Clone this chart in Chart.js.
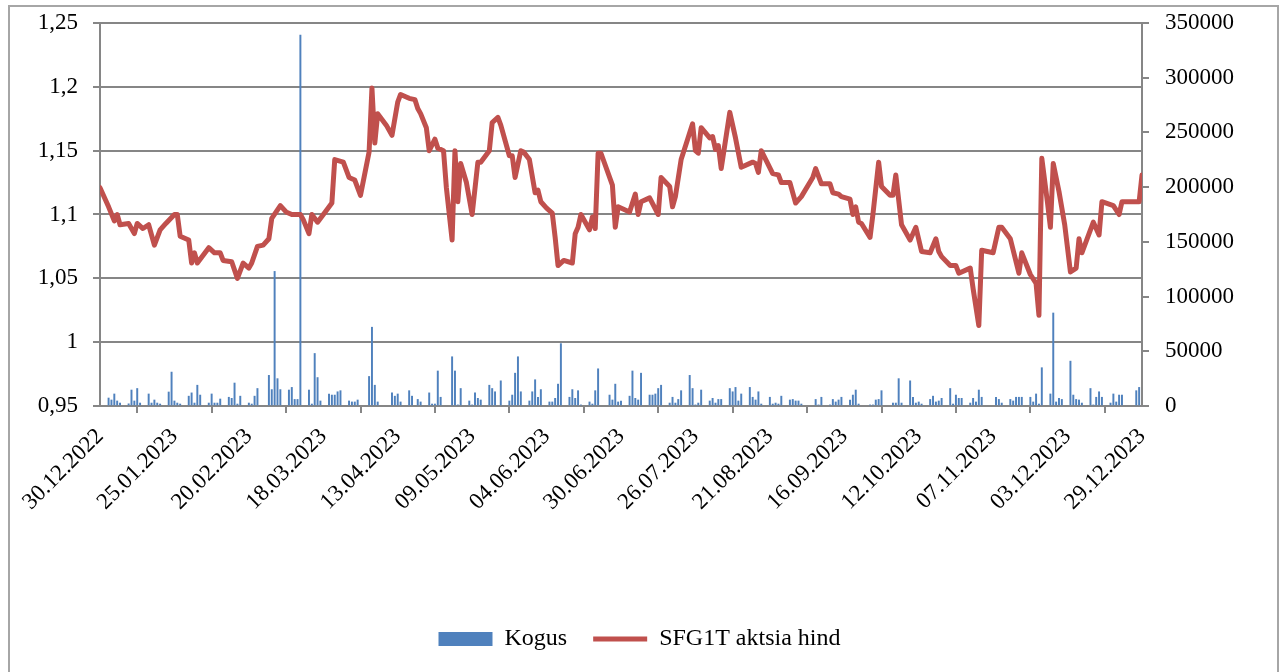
<!DOCTYPE html>
<html>
<head>
<meta charset="utf-8">
<script src="https://cdn.jsdelivr.net/npm/chart.js@4.4.1/dist/chart.umd.min.js"></script>
<style>
  html, body { margin: 0; padding: 0; background: #fff; overflow: hidden; }
  #frame { position: absolute; left: 8px; top: 5px; width: 1267px; height: 700px; border: 2px solid #a6a6a6; }
  #wrap { position: absolute; left: 0; top: 0; width: 1279px; height: 672px; }
</style>
</head>
<body>
<div id="frame"></div>
<div id="wrap"><canvas id="chart"></canvas></div>
<script>
// days counted from 30.12.2022
const priceDays = [
  0, 3, 5, 6, 7, 10, 12, 13, 15, 17, 19, 21, 23, 26, 27, 28, 31, 32, 33, 34,
  38, 40, 42, 43, 46, 48, 50, 52, 53, 55, 57, 59, 60, 63, 65, 67, 70, 71, 73, 74,
  76, 79, 81, 82, 85, 87, 89, 91, 94, 95, 96, 97, 100, 102, 104, 105, 108, 110, 111, 112,
  114, 115, 117, 118, 120, 121, 123, 124, 125, 126, 128, 130, 132, 133, 136, 137, 139, 140, 143, 144,
  145, 147, 148, 150, 152, 153, 154, 156, 158, 159, 160, 162, 165, 166, 167, 168, 171, 172, 173, 174,
  175, 179, 180, 181, 185, 187, 188, 189, 192, 195, 196, 199, 200, 201, 203, 205, 207, 208, 209, 210,
  213, 214, 215, 216, 217, 220, 222, 224, 228, 229, 230, 231, 233, 235, 237, 238, 241, 243, 245, 249,
  250, 252, 255, 256, 258, 259, 262, 263, 264, 265, 266, 269, 270, 272, 273, 276, 277, 278, 280, 283,
  285, 287, 290, 292, 293, 294, 297, 299, 300, 304, 305, 307, 308, 312, 314, 315, 318, 321, 322, 325,
  327, 328, 329, 331, 332, 333, 335, 337, 339, 341, 342, 343, 347, 349, 350, 354, 356, 357, 363, 364
];
const priceValues = [
  1.121, 1.106, 1.095, 1.100, 1.092, 1.093, 1.085, 1.093, 1.089, 1.092, 1.076, 1.088, 1.093, 1.100, 1.100, 1.083, 1.080, 1.062, 1.070, 1.062,
  1.074, 1.070, 1.070, 1.064, 1.063, 1.050, 1.062, 1.058, 1.062, 1.075, 1.076, 1.081, 1.097, 1.107, 1.102, 1.100, 1.100, 1.096, 1.085, 1.100,
  1.094, 1.103, 1.109, 1.143, 1.141, 1.129, 1.127, 1.115, 1.149, 1.199, 1.156, 1.179, 1.170, 1.162, 1.188, 1.194, 1.191, 1.190, 1.183, 1.179,
  1.168, 1.150, 1.159, 1.152, 1.150, 1.121, 1.080, 1.150, 1.110, 1.140, 1.125, 1.100, 1.141, 1.141, 1.150, 1.172, 1.176, 1.170, 1.146, 1.146,
  1.129, 1.150, 1.149, 1.143, 1.117, 1.119, 1.110, 1.105, 1.101, 1.082, 1.060, 1.064, 1.062, 1.085, 1.090, 1.100, 1.088, 1.098, 1.089, 1.148,
  1.148, 1.123, 1.090, 1.106, 1.102, 1.116, 1.100, 1.110, 1.113, 1.100, 1.129, 1.122, 1.106, 1.114, 1.143, 1.157, 1.171, 1.150, 1.148, 1.168,
  1.160, 1.161, 1.151, 1.154, 1.136, 1.180, 1.160, 1.137, 1.141, 1.140, 1.133, 1.150, 1.141, 1.132, 1.131, 1.125, 1.125, 1.109, 1.114, 1.129,
  1.136, 1.124, 1.124, 1.117, 1.116, 1.114, 1.112, 1.100, 1.106, 1.094, 1.093, 1.082, 1.100, 1.141, 1.122, 1.115, 1.115, 1.131, 1.092, 1.080,
  1.090, 1.071, 1.070, 1.081, 1.071, 1.067, 1.060, 1.060, 1.054, 1.058, 1.042, 1.013, 1.072, 1.070, 1.090, 1.090, 1.081, 1.054, 1.070, 1.053,
  1.046, 1.021, 1.144, 1.109, 1.090, 1.140, 1.118, 1.092, 1.055, 1.058, 1.081, 1.070, 1.094, 1.084, 1.110, 1.107, 1.100, 1.110, 1.110, 1.131
];

const volumeDays = [
  3, 4, 5, 6, 7, 10, 11, 12, 13, 14, 17, 18, 19, 20, 21, 24, 25, 26, 27, 28,
  31, 32, 33, 34, 35, 38, 39, 40, 41, 42, 45, 46, 47, 48, 49, 52, 53, 54, 55, 59,
  60, 61, 62, 63, 66, 67, 68, 69, 70, 73, 74, 75, 76, 77, 80, 81, 82, 83, 84, 87,
  88, 89, 90, 94, 95, 96, 97, 102, 103, 104, 105, 108, 109, 111, 112, 115, 116, 117, 118, 119,
  123, 124, 125, 126, 129, 130, 131, 132, 133, 136, 137, 138, 140, 143, 144, 145, 146, 147, 150, 151,
  152, 153, 154, 157, 158, 159, 160, 161, 164, 165, 166, 167, 168, 171, 172, 173, 174, 178, 179, 180,
  181, 182, 185, 186, 187, 188, 189, 192, 193, 194, 195, 196, 199, 200, 201, 202, 203, 206, 207, 208,
  209, 210, 213, 214, 215, 216, 217, 220, 221, 222, 223, 224, 227, 228, 229, 230, 231, 234, 235, 236,
  237, 238, 241, 242, 243, 244, 245, 250, 251, 252, 255, 256, 257, 258, 259, 262, 263, 264, 265, 269,
  270, 271, 272, 273, 277, 278, 279, 280, 283, 284, 285, 286, 287, 290, 291, 292, 293, 294, 297, 298,
  299, 300, 301, 304, 305, 306, 307, 308, 313, 314, 315, 318, 319, 320, 321, 322, 325, 326, 327, 328,
  329, 332, 333, 334, 335, 336, 339, 340, 341, 342, 343, 346, 347, 348, 349, 350, 353, 354, 355, 356,
  357, 362, 363
];
const volumeValues = [
  7300, 5500, 11000, 4600, 2700, 2000, 14600, 4600, 16000, 2700, 11000, 2700, 5500, 2700, 1800, 12800, 31000, 4600, 2700, 1800,
  9000, 12000, 2700, 19000, 10000, 2700, 11000, 2700, 2700, 6400, 8000, 7000, 21000, 1800, 9000, 2700, 1800, 9000, 16000, 28000,
  15000, 123000, 25000, 15000, 14600, 17000, 6000, 6000, 339000, 14600, 1800, 48000, 26000, 4600, 11000, 10000, 10000, 13000, 14000, 4600,
  3700, 3700, 5500, 27000, 72000, 19000, 3700, 12000, 9000, 11000, 3700, 14000, 9000, 6000, 3700, 12000, 1800, 1800, 32000, 8000,
  45000, 32000, 1000, 16000, 4600, 1000, 12000, 7000, 5500, 19000, 16000, 13000, 23000, 4600, 10000, 30000, 45000, 13000, 4600, 13000,
  24000, 8000, 15000, 3700, 3700, 7000, 20000, 57000, 8000, 15000, 7000, 14000, 1000, 3700, 1800, 14000, 34000, 10000, 5500, 20000,
  3700, 4600, 9000, 32000, 7000, 5500, 30000, 10000, 10000, 11000, 16000, 19000, 2700, 8000, 2700, 6000, 14000, 28000, 16000, 1000,
  2700, 14600, 4600, 7000, 2700, 6000, 6000, 16000, 13000, 17000, 4600, 11000, 17000, 8000, 5500, 13000, 1800, 8000, 1800, 2700,
  1800, 9000, 5500, 6000, 4600, 4600, 1800, 6000, 1000, 8000, 1000, 6000, 3700, 5500, 8000, 5500, 10000, 14600, 1800, 1000,
  1000, 5500, 6000, 14000, 2700, 2700, 25000, 2700, 23000, 8000, 2700, 3700, 1800, 6000, 9000, 3700, 4600, 7000, 16000, 1800,
  10000, 7000, 7000, 2700, 7000, 3700, 14600, 8000, 8000, 6000, 2700, 6000, 4600, 8000, 8000, 8000, 8000, 3700, 11000, 1800,
  35000, 11000, 85000, 3700, 7000, 6000, 41000, 10000, 6000, 5500, 2700, 16000, 1000, 8000, 13000, 8000, 2700, 11000, 3700, 10000,
  10000, 14000, 17000
];

const FONT = "'Liberation Serif', 'Times New Roman', serif";
Chart.defaults.font.family = FONT;
Chart.defaults.font.size = 23;
Chart.defaults.color = "#000";

const AXIS_GREY = "#868686";
const startDate = Date.UTC(2022, 11, 30);

function dayLabel(d) {
  const t = new Date(startDate + d * 86400000);
  const dd = String(t.getUTCDate()).padStart(2, "0");
  const mm = String(t.getUTCMonth() + 1).padStart(2, "0");
  return dd + "." + mm + "." + t.getUTCFullYear();
}

// fixed axis sizes so the plot area sits where it does in the original
function fixWidth(w) {
  return (s) => {
    s.width = w;
    s.paddingTop = 0;
    s.paddingBottom = 0;
  };
}

new Chart(document.getElementById("chart"), {
  type: "bar",
  data: {
    datasets: [
      {
        type: "line",
        label: "SFG1T aktsia hind",
        data: priceDays.map((d, i) => ({ x: d, y: priceValues[i] })),
        yAxisID: "y",
        borderColor: "#C0504D",
        backgroundColor: "#C0504D",
        borderWidth: 5,
        borderJoinStyle: "round",
        borderCapStyle: "round",
        pointRadius: 0,
        tension: 0,
      },
      {
        type: "bar",
        label: "Kogus",
        data: volumeDays.map((d, i) => ({ x: d, y: volumeValues[i] })),
        yAxisID: "y2",
        backgroundColor: "#4F81BD",
        borderWidth: 0,
        barThickness: 1.3,
      },
    ],
  },
  options: {
    responsive: true,
    maintainAspectRatio: false,
    animation: false,
    layout: { padding: { left: 0, right: 0, top: 23, bottom: 11 } },
    plugins: {
      tooltip: { enabled: false },
      legend: {
        position: "bottom",
        reverse: true,
        labels: {
          usePointStyle: true,
          pointStyleWidth: 54,
          boxHeight: 14,
          padding: 26,
          font: { size: 24 },
          generateLabels: (chart) =>
            Chart.defaults.plugins.legend.labels.generateLabels(chart).map((item) => {
              const isLine = chart.data.datasets[item.datasetIndex].type === "line";
              item.pointStyle = isLine ? "line" : "rect";
              item.lineWidth = isLine ? 5 : 0;
              return item;
            }),
        },
      },
    },
    scales: {
      x: {
        type: "linear",
        min: 0,
        max: 364,
        offset: false,
        grid: { drawOnChartArea: false, color: AXIS_GREY, lineWidth: 2, tickLength: 7 },
        border: { color: AXIS_GREY, width: 2 },
        ticks: {
          stepSize: 26,
          autoSkip: false,
          maxRotation: 45,
          minRotation: 45,
          padding: 10,
          callback: (v) => dayLabel(v),
        },
        afterFit: (s) => { s.height = 195; },
      },
      y: {
        position: "left",
        min: 0.95,
        max: 1.25,
        grid: { color: AXIS_GREY, lineWidth: 2, tickLength: 7 },
        border: { color: AXIS_GREY, width: 2 },
        ticks: {
          stepSize: 0.05,
          padding: 15,
          callback: (v) => String(Number(v.toFixed(2))).replace(".", ","),
        },
        afterFit: fixWidth(100),
      },
      y2: {
        position: "right",
        min: 0,
        max: 350000,
        grid: { drawOnChartArea: false, color: AXIS_GREY, lineWidth: 2, tickLength: 7 },
        border: { color: AXIS_GREY, width: 2 },
        ticks: { stepSize: 50000, padding: 16, callback: (v) => String(v) },
        afterFit: fixWidth(137),
      },
    },
  },
});
</script>
</body>
</html>
